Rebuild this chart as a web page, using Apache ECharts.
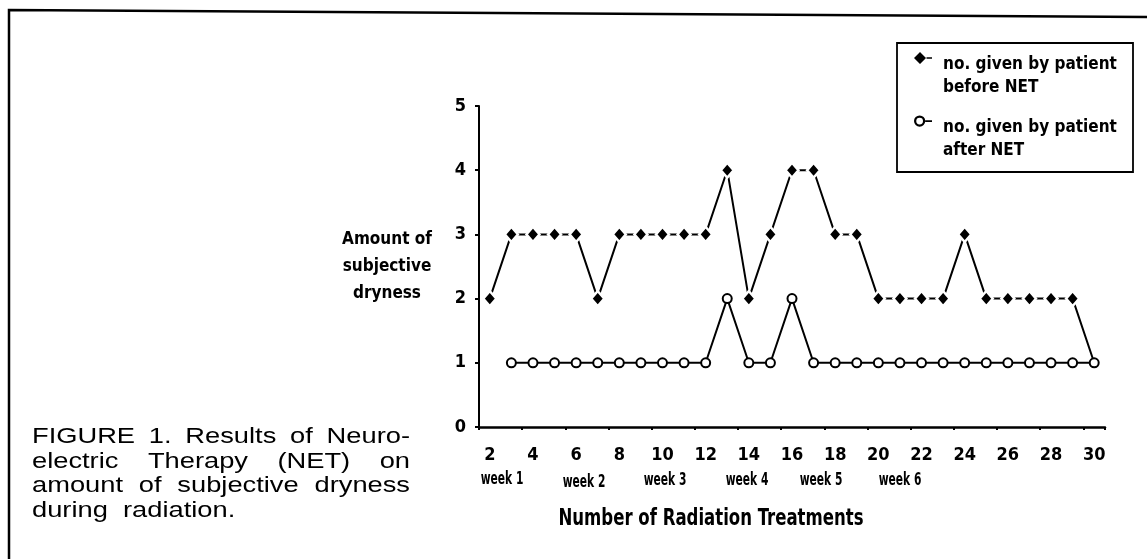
<!DOCTYPE html>
<html>
<head>
<meta charset="utf-8">
<script src="https://cdn.jsdelivr.net/npm/echarts@6/dist/echarts.min.js"></script>
<style>
html,body{margin:0;padding:0;background:#fff}
#main{width:1147px;height:559px}
</style>
</head>
<body>
<div id="main"></div>
<script>
// treatment numbers on the x axis
var treatments = ['2','3','4','5','6','7','8','9','10','11','12','13','14','15','16','17','18','19','20','21','22','23','24','25','26','27','28','29','30'];
// dryness given by patient before NET
var before = [2,3,3,3,3,2,3,3,3,3,3,4,2,3,4,4,3,3,2,2,2,2,3,2,2,2,2,2,1];
// dryness given by patient after NET (none for treatment 2)
var after = [null,1,1,1,1,1,1,1,1,1,1,2,1,1,2,1,1,1,1,1,1,1,1,1,1,1,1,1,1];
var weeks = ['week 1','week 2','week 3','week 4','week 5','week 6'];
var captionLines = [
	['FIGURE','1.','Results','of','Neuro-'],
	['electric','Therapy','(NET)','on'],
	['amount','of','subjective','dryness'],
	['during','radiation.']
];

// pick a narrow font if there is one
function hasFont(name){
	var c=document.createElement('canvas').getContext('2d');
	var s='abcdefghijklmnopqrstuvwxyz0123456789';
	c.font='40px monospace';
	var w0=c.measureText(s).width;
	c.font='40px "'+name+'", monospace';
	return c.measureText(s).width!=w0;
}
var NARROW = hasFont('Liberation Sans Narrow') ? 'Liberation Sans Narrow' :
	(hasFont('DejaVu Sans Condensed') ? 'DejaVu Sans Condensed' : 'Roboto');

var myChart = echarts.init(document.getElementById('main'), null, {renderer:'canvas'});

// hide the diamond where both series sit on the same point
var beforeData = before.map(function(v,i){
	return v===after[i] ? {value:v, symbol:'none'} : v;
});

// caption, justified like the printed one
var capScale = 1.24, capLeft = 32, capRight = 410, capTop = 448, capStep = 24.7;
var capFont = '22px "Liberation Sans"';
var ctx = document.createElement('canvas').getContext('2d');
ctx.font = capFont;
var captionEls = [];
captionLines.forEach(function(words,li){
	var widths = words.map(function(w){return ctx.measureText(w).width*capScale;});
	var total = widths.reduce(function(a,b){return a+b;},0);
	var gap = li<captionLines.length-1 ? (capRight-capLeft-total)/(words.length-1) : ctx.measureText(' ').width*capScale*2;
	var x = capLeft;
	words.forEach(function(w,wi){
		captionEls.push({
			type:'text', x:x, y:capTop+li*capStep, scaleX:capScale,
			style:{text:w, font:capFont, fill:'#000', verticalAlign:'bottom'}
		});
		x += widths[wi]+gap;
	});
});

var weekX = [502,584,665,747,821,900];
var weekY = [479,482,480,480,480,480];
var weekEls = weeks.map(function(w,i){
	return {type:'text', x:weekX[i], y:weekY[i], scaleX:0.66,
		style:{text:w, fill:'#000', font:'bold 18px "'+NARROW+'"', align:'center', verticalAlign:'middle'}};
});

var labelFont = {color:'#000', fontFamily:NARROW, fontWeight:'bold', fontSize:18};

function legendText(n){
	var p = n.split('patient ');
	return '{s| }\n{t|'+p[0]+'patient}\n{t|'+p[1]+'}';
}
var legendStyle = {color:'#000', fontFamily:NARROW, fontWeight:'bold', fontSize:17, padding:[0,0,0,6],
	rich:{s:{fontSize:10, lineHeight:36}, t:{color:'#000', fontFamily:NARROW, fontWeight:'bold', fontSize:17, lineHeight:23}}};

option = {
	backgroundColor:'#fff',
	animation:false,
	grid:{left:479, right:42, top:106, bottom:132},
	legend:[{
		left:914, top:30, orient:'vertical', padding:0, selectedMode:false,
		itemWidth:18, itemHeight:12,
		itemStyle:{borderWidth:0},
		data:[{name:'no. given by patient before NET', icon:'path://M0,6 L6,0 L12,6 L6,12 Z M12.5,5.3 L18,5.3 L18,6.8 L12.5,6.8 Z'}],
		formatter:legendText,
		textStyle:legendStyle
	},{
		left:914, top:93, orient:'vertical', padding:0, selectedMode:false,
		itemWidth:18, itemHeight:12,
		itemStyle:{borderWidth:0},
		data:[{name:'no. given by patient after NET', icon:'path://M1,6 A5,5 0 1,1 11,6 A5,5 0 1,1 1,6 Z M3,6 A3,3 0 1,0 9,6 A3,3 0 1,0 3,6 Z M11,5.3 L17,5.3 L17,6.8 L11,6.8 Z'}],
		formatter:legendText,
		textStyle:legendStyle
	}],
	xAxis:{
		type:'category',
		data:treatments,
		boundaryGap:true,
		axisLine:{lineStyle:{color:'#000', width:2.5}},
		axisTick:{show:true, length:3, lineStyle:{color:'#000', width:2}},
		axisLabel:Object.assign({interval:1, margin:19}, labelFont),
		splitLine:{show:false}
	},
	yAxis:{
		type:'value', min:0, max:5, interval:1,
		name:'Amount of\nsubjective\ndryness',
		nameLocation:'middle', nameRotate:0, nameGap:92,
		nameTextStyle:{color:'#000', fontFamily:NARROW, fontWeight:'bold', fontSize:17, lineHeight:27, align:'center', verticalAlign:'middle'},
		axisLine:{show:true, lineStyle:{color:'#000', width:2}},
		axisTick:{show:true, length:4, lineStyle:{color:'#000', width:2}},
		axisLabel:Object.assign({margin:13}, labelFont),
		splitLine:{show:false}
	},
	series:[{
		name:'no. given by patient before NET',
		type:'line',
		data:beforeData,
		showAllSymbol:true,
		symbol:'diamond',
		symbolSize:[13,15],
		itemStyle:{color:'#000', borderColor:'#fff', borderWidth:2.5},
		lineStyle:{color:'#000', width:2},
		z:3
	},{
		name:'no. given by patient after NET',
		type:'line',
		data:after,
		showAllSymbol:true,
		symbol:'emptyCircle',
		symbolSize:9,
		itemStyle:{color:'#000', borderWidth:1.5},
		lineStyle:{color:'#000', width:2},
		z:4
	}],
	graphic:[
		{type:'polyline', shape:{points:[[9,559],[9,10],[1147,17]]}, style:{stroke:'#000', lineWidth:2.5, fill:null}},
		{type:'rect', shape:{x:897, y:43, width:236, height:129}, style:{stroke:'#000', lineWidth:1.8, fill:null}},
		{type:'text', x:711, y:519, scaleX:0.8, style:{text:'Number of Radiation Treatments', fill:'#000', font:'bold 23px "'+NARROW+'"', align:'center', verticalAlign:'middle'}}
	].concat(weekEls).concat(captionEls)
};
myChart.setOption(option);
</script>
</body>
</html>
